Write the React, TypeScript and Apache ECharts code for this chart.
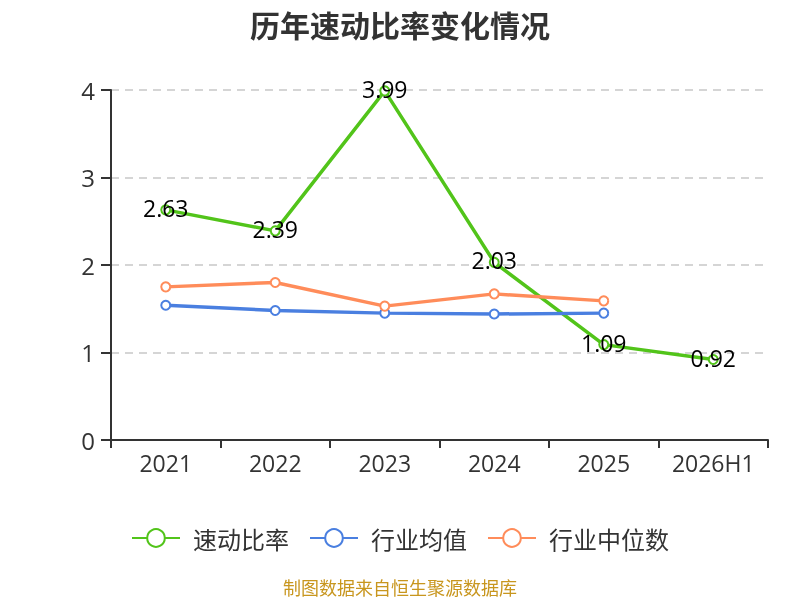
import React, { useEffect, useRef } from 'react';
import * as echarts from 'echarts';

const years = ['2021', '2022', '2023', '2024', '2025', '2026H1'];
const quickRatio = [2.63, 2.39, 3.99, 2.03, 1.09, 0.92];
const industryMean = [1.54, 1.48, 1.45, 1.44, 1.45];
const industryMedian = [1.75, 1.8, 1.53, 1.67, 1.59];

const FONT = '"Open Sans", "Noto Sans CJK SC", sans-serif';
const CJK = '"Noto Sans CJK SC", sans-serif';

const App: React.FC = () => {
  const chartRef = useRef<HTMLDivElement | null>(null);

  useEffect(() => {
    if (!chartRef.current) return;
    const myChart = echarts.init(chartRef.current, null, { renderer: 'svg' });

    const lineSeries = (name: string, data: number[], color: string, withLabel: boolean) => ({
      name,
      type: 'line',
      data,
      symbol: 'emptyCircle',
      symbolSize: 9,
      lineStyle: { width: 3.5, color },
      itemStyle: { color, borderWidth: 1.5 },
      label: withLabel
        ? { show: true, position: 'inside', offset: [0, -2], color: '#000', fontSize: 23, fontFamily: FONT }
        : { show: false },
    });

    myChart.setOption({
      animation: false,
      textStyle: { fontFamily: FONT },
      title: {
        text: '历年速动比率变化情况',
        left: 'center',
        top: 4,
        textStyle: { fontSize: 30, fontWeight: 'bold', color: '#333', fontFamily: CJK },
      },
      legend: {
        top: 521,
        itemWidth: 48,
        itemHeight: 22,
        itemGap: 20,
        textStyle: { fontSize: 24, color: '#333', fontFamily: CJK, padding: [0, 0, 0, 8] },
        data: ['速动比率', '行业均值', '行业中位数'],
      },
      graphic: [
        {
          type: 'text',
          left: 'center',
          top: 578,
          style: { text: '制图数据来自恒生聚源数据库', fill: '#c8961e', fontSize: 18, fontFamily: CJK },
        },
      ],
      grid: { left: 111, right: 32, top: 90, bottom: 160 },
      xAxis: {
        type: 'category',
        data: years,
        axisLine: { lineStyle: { color: '#333', width: 2 } },
        axisTick: { show: true, interval: 0, length: 8, lineStyle: { color: '#333', width: 2 } },
        axisLabel: { interval: 0, fontSize: 23, color: '#333', margin: 11 },
      },
      yAxis: {
        type: 'value',
        min: 0,
        max: 4,
        interval: 1,
        axisLine: { show: true, lineStyle: { color: '#333', width: 2 } },
        axisTick: { show: true, length: 10, lineStyle: { color: '#333', width: 2 } },
        axisLabel: { fontSize: 24, color: '#333', margin: 16 },
        splitLine: { lineStyle: { type: [8, 6], color: '#c8c8c8', width: 1.5 } },
      },
      series: [
        lineSeries('速动比率', quickRatio, '#52c41a', true),
        lineSeries('行业均值', industryMean, '#4a7fe0', false),
        lineSeries('行业中位数', industryMedian, '#ff8c5a', false),
      ],
    });

    return () => {
      myChart.dispose();
    };
  }, []);

  return (
    <div
      ref={chartRef}
      style={{ position: 'fixed', left: 0, top: 0, width: '800px', height: '600px' }}
    />
  );
};

export default App;
